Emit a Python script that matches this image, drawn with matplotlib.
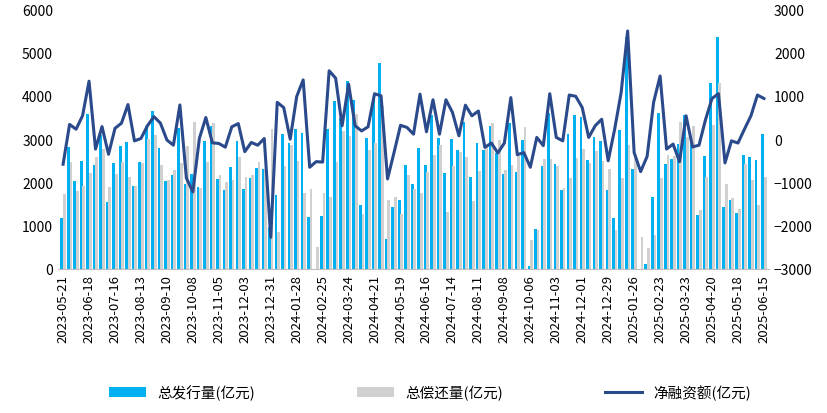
import datetime as dt

import matplotlib.pyplot as plt
import numpy as np

plt.rcParams["font.family"] = ["Noto Sans CJK SC", "DejaVu Sans"]

start = dt.date(2023, 5, 21)
dates = [(start + dt.timedelta(weeks=i)).strftime("%Y-%m-%d") for i in range(109)]

issue = [1180, 2820, 2025, 2500, 3590, 2400, 3100, 1550, 2450, 2850,
         2930, 1925, 2470, 3300, 3660, 2800, 2040, 2160, 3260, 1960,
         2200, 1900, 2960, 3310, 2090, 1830, 2360, 2960, 1850, 2100,
         2330, 2320, 960, 1710, 3130, 2900, 3230, 3140, 1200, 0,
         1220, 3230, 3890, 3490, 4340, 3910, 1480, 3030, 3960, 4760,
         700, 1430, 1590, 2410, 1970, 2800, 2410, 3550, 3030, 2220,
         3010, 2750, 3390, 2130, 2910, 2760, 3300, 2680, 2200, 3370,
         2250, 2990, 60, 920, 2390, 3600, 2430, 1830, 3130, 3560,
         3510, 2520, 3060, 2960, 1820, 1180, 3210, 5350, 2300, 0,
         115, 1660, 3600, 2430, 2530, 2890, 3560, 2910, 1250, 2620,
         4300, 5360, 1430, 1600, 1290, 2630, 2590, 2520, 3110]

repay = [1740, 2470, 1800, 1920, 2220, 2590, 2770, 1900, 2200, 2470,
         2130, 1925, 2450, 3000, 3100, 2410, 2060, 2290, 2450, 2850,
         3400, 1860, 2470, 3370, 2170, 2010, 2060, 2590, 2130, 2170,
         2470, 2300, 3230, 850, 2390, 2860, 2500, 1760, 1850, 510,
         1760, 1660, 2470, 3180, 3080, 3580, 1270, 2750, 2910, 3760,
         1590, 1660, 1270, 2180, 1850, 1760, 2230, 2640, 2860, 1320,
         2390, 2700, 2590, 1570, 2270, 2820, 3370, 2990, 2290, 2400,
         2610, 3290, 680, 890, 2530, 2550, 2390, 1860, 2100, 2560,
         2780, 2450, 2730, 2500, 2310, 910, 2100, 2860, 2610, 740,
         485, 790, 2110, 2630, 2610, 3400, 3040, 3300, 1360, 2130,
         3330, 4300, 1970, 1640, 1390, 2430, 2060, 1480, 2130]

net = [-580, 340, 230, 540, 1340, -230, 290, -350, 250, 370,
       800, -40, 15, 310, 520, 370, -20, -140, 790, -900,
       -1220, 15, 500, -85, -100, -185, 285, 360, -290, -77,
       -140, 15, -2270, 850, 730, 0, 985, 1370, -650, -520,
       -530, 1580, 1410, 310, 1270, 310, 190, 285, 1050, 1000,
       -920, -310, 320, 270, 115, 1040, 170, 910, 115, 910,
       620, 77, 785, 540, 650, -190, -90, -320, -90, 960,
       -360, -310, -650, 40, -150, 1050, 40, -40, 1020, 990,
       730, 40, 310, 460, -500, 230, 1080, 2500, -310, -750,
       -400, 850, 1460, -230, -115, -520, 540, -180, -140, 450,
       940, 1050, -550, -40, -90, 230, 540, 1020, 940]

x = np.arange(len(dates))

fig, ax = plt.subplots(figsize=(8.27, 4.14), dpi=100)
fig.subplots_adjust(left=0.07, right=0.93, top=0.975, bottom=0.348)
ax2 = ax.twinx()

b1 = ax.bar(x - 0.2, issue, width=0.42, color="#00B0F0", label="总发行量(亿元)")
b2 = ax.bar(x + 0.2, repay, width=0.42, color="#D0D0D0", label="总偿还量(亿元)")
l1, = ax2.plot(x, net, color="#2B4A8C", lw=2.2, label="净融资额(亿元)")

ax.set_ylim(0, 6000)
ax.set_yticks(range(0, 6001, 1000))
ax2.set_ylim(-3000, 3000)
ax2.set_yticks(range(-3000, 3001, 1000))
ax.set_xlim(-0.8, len(dates) - 0.2)
ax.set_xticks(x[::4])
ax.set_xticklabels(dates[::4], rotation=90, fontsize=9.5)
ax.tick_params(axis="x", length=0)

for a in (ax, ax2):
    for s in a.spines.values():
        s.set_visible(False)
    a.tick_params(axis="y", length=0, labelsize=10)
ax.spines["bottom"].set_visible(True)
ax.spines["bottom"].set_color("#BFBFBF")

fig.legend(handles=[b1, b2, l1], loc="lower center", ncol=3, frameon=False,
           bbox_to_anchor=(0.52, 0.0), fontsize=10.5, columnspacing=7, handlelength=2.5)

plt.savefig("out.png")
